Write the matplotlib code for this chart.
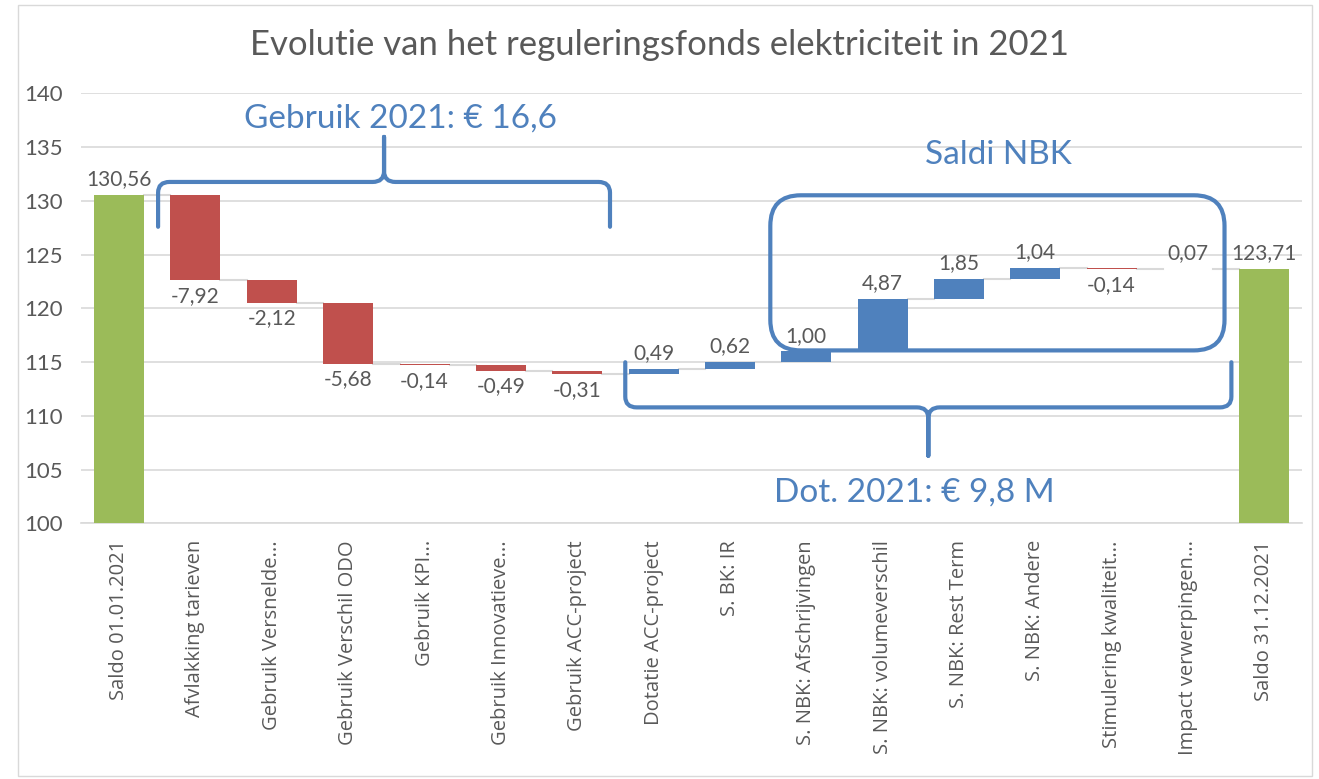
"""
Waterfall: evolutie van het reguleringsfonds elektriciteit in 2021
"""
import matplotlib
matplotlib.use('Agg')
import matplotlib.pyplot as plt
from matplotlib.path import Path
from matplotlib.patches import PathPatch, FancyBboxPatch, Rectangle
import numpy as np

plt.rcParams.update({
    'font.family': ['Lato', 'DejaVu Sans'],
    'axes.spines.top': False,
    'axes.spines.right': False,
    'axes.spines.left': False,
})

# ---- data ----
categories = ['Saldo 01.01.2021', 'Afvlakking tarieven', 'Gebruik Versnelde...',
              'Gebruik Verschil ODO', 'Gebruik KPI...', 'Gebruik Innovatieve...',
              'Gebruik ACC-project', 'Dotatie ACC-project', 'S. BK: IR',
              'S. NBK: Afschrijvingen', 'S. NBK: volumeverschil', 'S. NBK: Rest Term',
              'S. NBK: Andere', 'Stimulering kwaliteit...', 'Impact verwerpingen...',
              'Saldo 31.12.2021']
values = [130.56, -7.92, -2.12, -5.68, -0.14, -0.49, -0.31, 0.49, 0.62,
          1.00, 4.87, 1.85, 1.04, -0.14, 0.07, 123.71]
is_total = [True] + [False] * 14 + [True]

GREEN = '#9BBB59'
RED = '#C0504D'
BLUE = '#4F81BD'
TXT = '#595959'
ANN = '#4F81BD'

# running levels
bottoms, heights, colors = [], [], []
level = 0.0
for v, tot in zip(values, is_total):
    if tot:
        bottoms.append(0.0)
        heights.append(v)
        colors.append(GREEN)
        level = v
    else:
        start = level
        level = level + v
        bottoms.append(min(start, level))
        heights.append(abs(v))
        colors.append(BLUE if v > 0 else RED)

fig = plt.figure(figsize=(13.19, 7.79), dpi=100)
ax = fig.add_axes([0.0614, 0.328, 0.926, 0.552])

x = np.arange(len(categories))
bw = 0.655
ax.bar(x, heights, bw, bottom=bottoms, color=colors, zorder=3)

# connector lines
for i in range(len(values) - 1):
    top = bottoms[i] + heights[i]
    if not is_total[i] and values[i] < 0:
        lvl = bottoms[i]
    else:
        lvl = top
    ax.plot([x[i] + bw / 2, x[i + 1] - bw / 2], [lvl, lvl], color='#D9D9D9', lw=1.5, zorder=2)

# data labels
for i, v in enumerate(values):
    lab = f'{v:.2f}'.replace('.', ',')
    if is_total[i] or v > 0:
        ax.annotate(lab, (x[i], bottoms[i] + heights[i]), xytext=(0, 4), textcoords='offset points',
                    ha='center', va='bottom', fontsize=15, color=TXT)
    else:
        ax.annotate(lab, (x[i], bottoms[i]), xytext=(0, -4), textcoords='offset points',
                    ha='center', va='top', fontsize=15, color=TXT)

ax.set_ylim(100, 140)
ax.set_xlim(-0.5, len(categories) - 0.5)
ax.set_yticks(np.arange(100, 141, 5))
ax.yaxis.grid(True, color='#D9D9D9', lw=1.2, zorder=0)
ax.set_axisbelow(True)
ax.spines['bottom'].set_color('#D9D9D9')
ax.spines['bottom'].set_linewidth(1.2)
ax.tick_params(axis='y', length=0, labelsize=16, labelcolor=TXT, pad=13)
ax.tick_params(axis='x', length=0, pad=12)
ax.set_xticks(x)
ax.set_xticklabels(categories, rotation=90, fontsize=14.5, color=TXT, va='top', ha='center',
                   family=['Open Sans', 'DejaVu Sans'])

fig.text(0.5, 0.942, 'Evolutie van het reguleringsfonds elektriciteit in 2021',
         ha='center', va='center', fontsize=25, color=TXT)


# ---- annotation shapes ----
def brace(x0, x1, xm, y_end, y_bar, y_tip, cx=0.15, cy=1.0):
    s = 1 if y_tip > y_bar else -1
    verts = [(x0, y_end), (x0, y_bar - s * cy), (x0, y_bar), (x0 + cx, y_bar),
             (xm - cx, y_bar), (xm, y_bar), (xm, y_bar + s * cy), (xm, y_tip),
             (xm, y_bar + s * cy), (xm, y_bar), (xm + cx, y_bar),
             (x1 - cx, y_bar), (x1, y_bar), (x1, y_bar - s * cy), (x1, y_end)]
    codes = [Path.MOVETO, Path.LINETO, Path.CURVE3, Path.CURVE3,
             Path.LINETO, Path.CURVE3, Path.CURVE3, Path.LINETO,
             Path.LINETO, Path.CURVE3, Path.CURVE3,
             Path.LINETO, Path.CURVE3, Path.CURVE3, Path.LINETO]
    ax.add_patch(PathPatch(Path(verts, codes), fill=False, edgecolor=ANN, lw=3,
                           capstyle='round', joinstyle='round', zorder=5, clip_on=False))


brace(0.51, 6.43, 3.47, 127.6, 131.77, 135.96)
brace(6.63, 14.57, 10.6, 115.0, 110.8, 106.3)

ax.add_patch(FancyBboxPatch((8.53, 116.1), 14.48 - 8.53, 130.53 - 116.1,
                            boxstyle='round,pad=0,rounding_size=0.4', mutation_aspect=7.1,
                            fill=False, edgecolor=ANN, lw=3, zorder=5))

ax.text(3.68, 137.7, 'Gebruik 2021: € 16,6', ha='center', va='center', fontsize=24, color=ANN)
ax.text(11.52, 134.25, 'Saldi NBK', ha='center', va='center', fontsize=24, color=ANN)
ax.text(10.42, 102.9, 'Dot. 2021: € 9,8 M', ha='center', va='center', fontsize=24, color=ANN)

# chart border
fig.add_artist(Rectangle((0.014, 0.004), 0.981, 0.99, transform=fig.transFigure,
                         fill=False, edgecolor='#D9D9D9', lw=1))

plt.savefig('out.png', dpi=100, facecolor='white')
